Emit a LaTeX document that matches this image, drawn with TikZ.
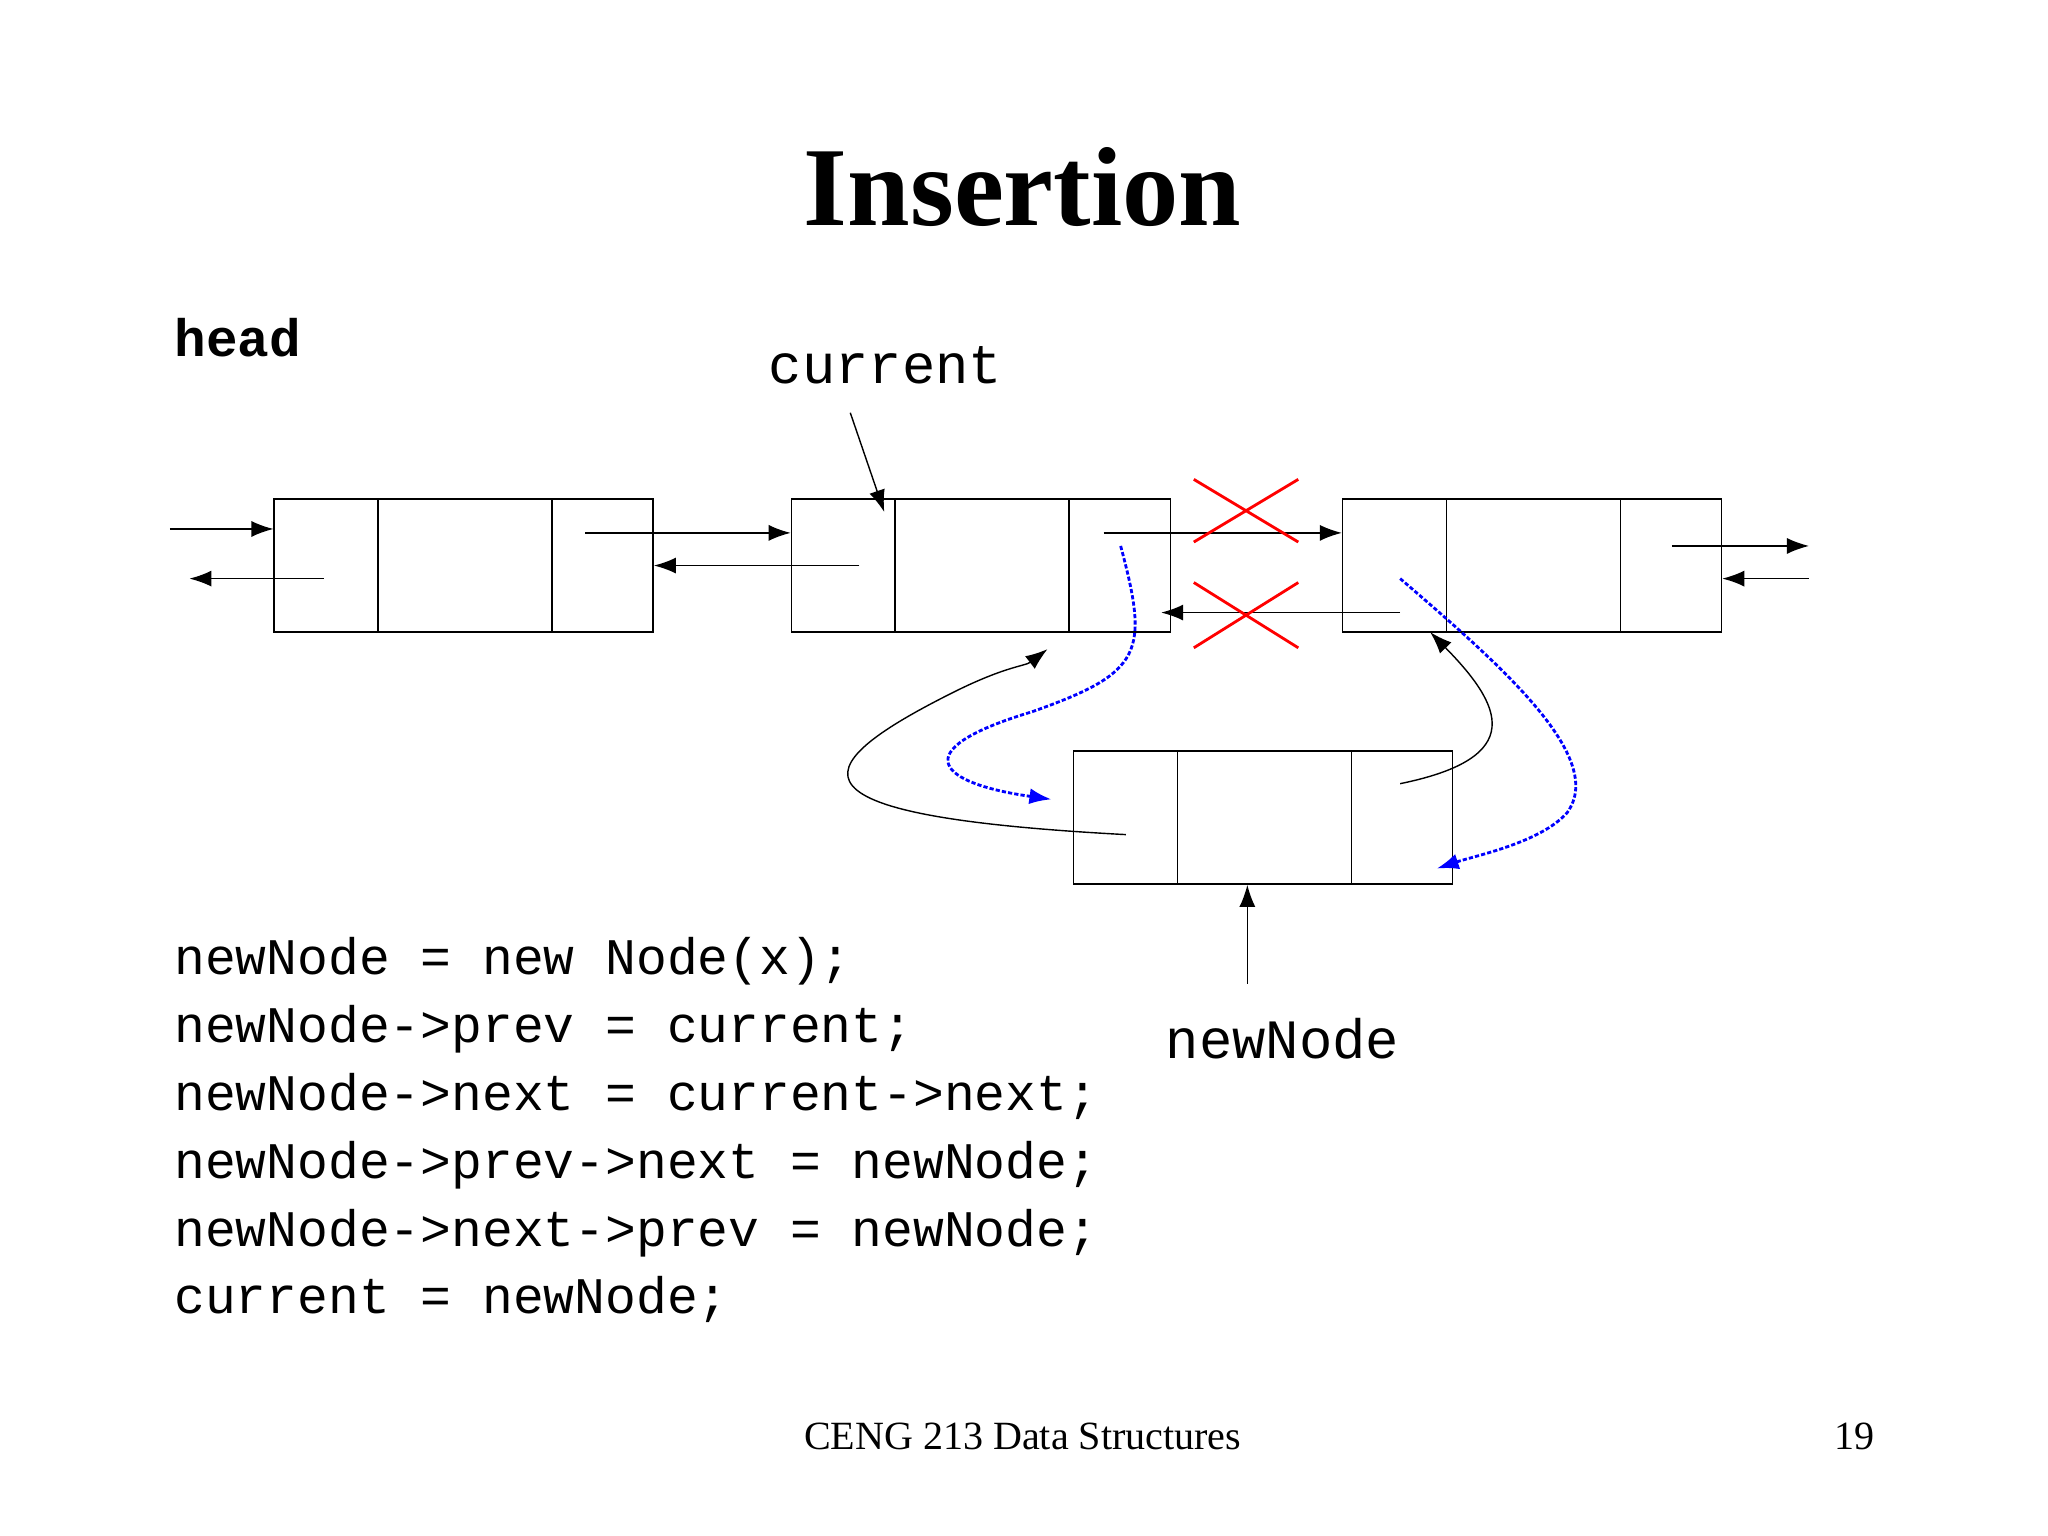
\documentclass[tikz,border=0pt]{standalone}
\usepackage{fontspec}
\setmainfont{Liberation Serif}
\setmonofont{Liberation Mono}
\usetikzlibrary{arrows.meta}

\tikzset{
  box/.style={draw, minimum width=3.79cm, minimum height=1.33cm, inner sep=0pt},
  link/.style={-{Latex[length=2.2mm,width=1.6mm]}, thin},
  blue link/.style={-{Latex[length=2.2mm,width=1.6mm]}, blue, thick, dash pattern=on 1.2pt off 0.6pt},
  cross/.style={red, thick},
  code/.style={font=\fontsize{14.6}{17}\selectfont\ttfamily, anchor=base west, inner sep=0pt}
}
\newcommand{\listnode}[2]{%
  \node[box] (#1) at #2 {};
  \draw ([xshift=1.045cm]#1.north west) -- ([xshift=1.045cm]#1.south west);
  \draw ([xshift=-1.02cm]#1.north east) -- ([xshift=-1.02cm]#1.south east);
}

\begin{document}
\begin{tikzpicture}[x=0.01306cm, y=-0.01306cm]
    \useasboundingbox (0,0) rectangle (1568,1176);
    % title
    \node[font=\fontsize{32}{36}\selectfont\bfseries] (title) at (783,143) {Insertion};
    \node[font=\fontsize{15}{17}\selectfont\ttfamily\bfseries, anchor=base west, inner sep=0pt] (head) at (133,273) {head};
    \node[font=\fontsize{15.8}{18}\selectfont\ttfamily] (cur) at (678,280) {current};
    \node[font=\fontsize{15.8}{18}\selectfont\ttfamily] (nn) at (982,795) {newNode};

    % list nodes
    \listnode{a}{(355,433)}
    \listnode{b}{(751,433)}
    \listnode{c}{(1173,433)}
    \listnode{n}{(967,626)}

    % links
    \draw[link] (130,405) -- (a.west |- 0,405);
    \draw[link] (248,443) -- (145,443);
    \draw[link] (448,408) -- (b.west |- 0,408);
    \draw[link] (658,433) -- (a.east |- 0,433);
    \draw[link] (845,408) -- (c.west |- 0,408);
    \draw[link] (1072,469) -- (889,469);
    \draw[link] (1280,418) -- (1385,418);
    \draw[link] (1385,443) -- (c.east |- 0,443);
    \draw[link] (651,316) -- (677,392);
    \draw[link] (955,753) -- (n.south -| 955,0);

    % removed links
    \draw[cross] (914,367) -- (994,415) (914,415) -- (994,367);
    \draw[cross] (914,446) -- (994,496) (914,496) -- (994,446);

    % new links
    \draw[link] (862,639) .. controls (600,625) and (610,590) .. (730,530)
        .. controls (770,510) and (785,510) .. (802,497);
    \draw[link] (1072,600) .. controls (1170,580) and (1150,540) .. (1095,484);
    \draw[blue link] (858,418) .. controls (880,500) and (875,515) .. (790,545)
        .. controls (690,575) and (720,600) .. (805,612);
    \draw[blue link] (1072,443) .. controls (1150,510) and (1230,580) .. (1200,622)
        .. controls (1180,645) and (1130,655) .. (1100,665);

    % code
    \node[code] (l1) at (133,746) {newNode = new Node(x);};
    \node[code] (l2) at (133,798) {newNode->prev = current;};
    \node[code] (l3) at (133,850) {newNode->next = current->next;};
    \node[code] (l4) at (133,902) {newNode->prev->next = newNode;};
    \node[code] (l5) at (133,954) {newNode->next->prev = newNode;};
    \node[code] (l6) at (133,1006) {current = newNode;};

    % footer
    \node[font=\fontsize{11.4}{14}\selectfont] (foot) at (783,1100) {CENG 213 Data Structures};
    \node[font=\fontsize{11.4}{14}\selectfont] (page) at (1420,1100) {19};
\end{tikzpicture}
\end{document}
